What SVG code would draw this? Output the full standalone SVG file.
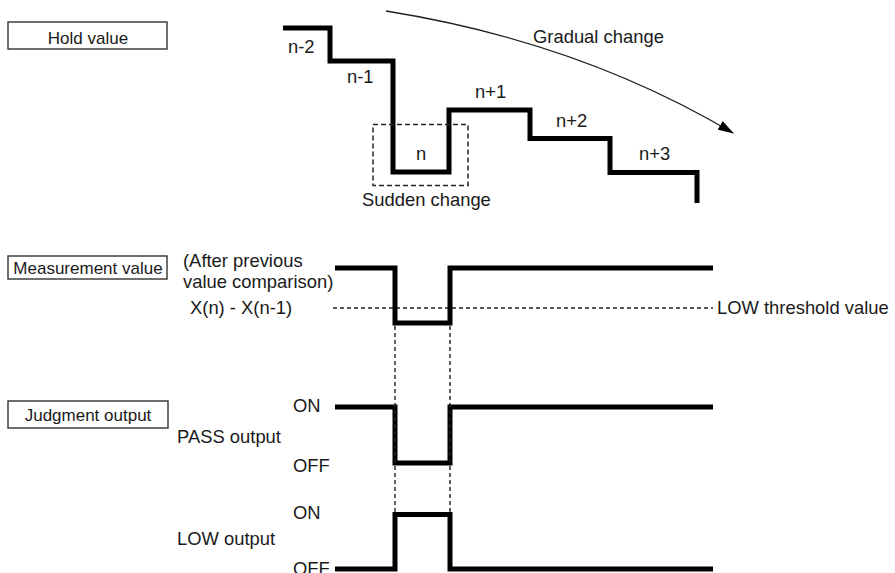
<svg xmlns="http://www.w3.org/2000/svg" width="895" height="573" viewBox="0 0 895 573">
<style>
.box{fill:#fff;stroke:#333;stroke-width:1.4}
.bl{font-family:"Liberation Sans",Arial,sans-serif;font-size:17px;fill:#1a1a1a;text-anchor:middle}
.t{font-family:"Liberation Sans",Arial,sans-serif;font-size:18.4px;fill:#1a1a1a}
.wave{fill:none;stroke:#000;stroke-width:5;stroke-linejoin:miter;stroke-linecap:butt}
.dash{fill:none;stroke:#222;stroke-width:1.4;stroke-dasharray:4 3}
.dbox{fill:none;stroke:#222;stroke-width:1.5;stroke-dasharray:5 3}
.arc{fill:none;stroke:#222;stroke-width:1.3}
</style>
<defs>
<marker id="ah" viewBox="0 0 16 10" refX="15" refY="5" markerWidth="16" markerHeight="10" markerUnits="userSpaceOnUse" orient="auto">
<path d="M0,0 L16,5 L0,10 z" fill="#000"/>
</marker>
</defs>
<rect width="895" height="573" fill="#fff"/>
<g id="hold-value">
<rect class="box" x="8" y="22" width="159" height="27"/>
<text class="bl" x="88" y="44">Hold value</text>
</g>
<g id="measurement-value">
<rect class="box" x="8" y="256" width="159" height="23"/>
<text class="bl" x="88" y="274">Measurement value</text>
</g>
<g id="judgment-output">
<rect class="box" x="8" y="401" width="160" height="27"/>
<text class="bl" x="88" y="421">Judgment output</text>
</g>
<g id="hold-wave">
<path class="wave" d="M283,28 H330 V61 H393 V172 H449 V110 H530 V138.5 H610 V172.5 H697 V203"/>
<text class="t" x="288" y="53">n-2</text>
<text class="t" x="347" y="83">n-1</text>
<text class="t" x="416" y="160">n</text>
<text class="t" x="475" y="98">n+1</text>
<text class="t" x="556" y="127">n+2</text>
<text class="t" x="639" y="160">n+3</text>
<rect class="dbox" x="373" y="124.5" width="95" height="61"/>
<text class="t" x="362" y="206">Sudden change</text>
<text class="t" x="533" y="43">Gradual change</text>
</g>
<g id="measurement-wave">
<text class="t" x="183" y="267">(After previous</text>
<text class="t" x="183" y="288">value comparison)</text>
<text class="t" x="190" y="314">X(n) - X(n-1)</text>
<path class="dash" d="M333,308 H713"/>
<text class="t" x="717" y="314">LOW threshold value</text>
<path class="wave" d="M335,268 H395 V323 H450 V268 H713"/>
</g>
<g id="pass-output">
<text class="t" x="293" y="412">ON</text>
<text class="t" x="177" y="443">PASS output</text>
<text class="t" x="293" y="472">OFF</text>
<path class="wave" d="M335,407 H395 V463 H450 V407 H713"/>
</g>
<g id="low-output">
<text class="t" x="293" y="519">ON</text>
<text class="t" x="177" y="545">LOW output</text>
<text class="t" x="293" y="575">OFF</text>
<path class="wave" d="M335,569 H395 V514.5 H450 V569 H713"/>
</g>
<g id="connectors">
<path class="arc" d="M386,11 Q580,42 733,133" marker-end="url(#ah)"/>
<path class="dash" d="M395,326 V512 M450,326 V512"/>
</g>
</svg>
